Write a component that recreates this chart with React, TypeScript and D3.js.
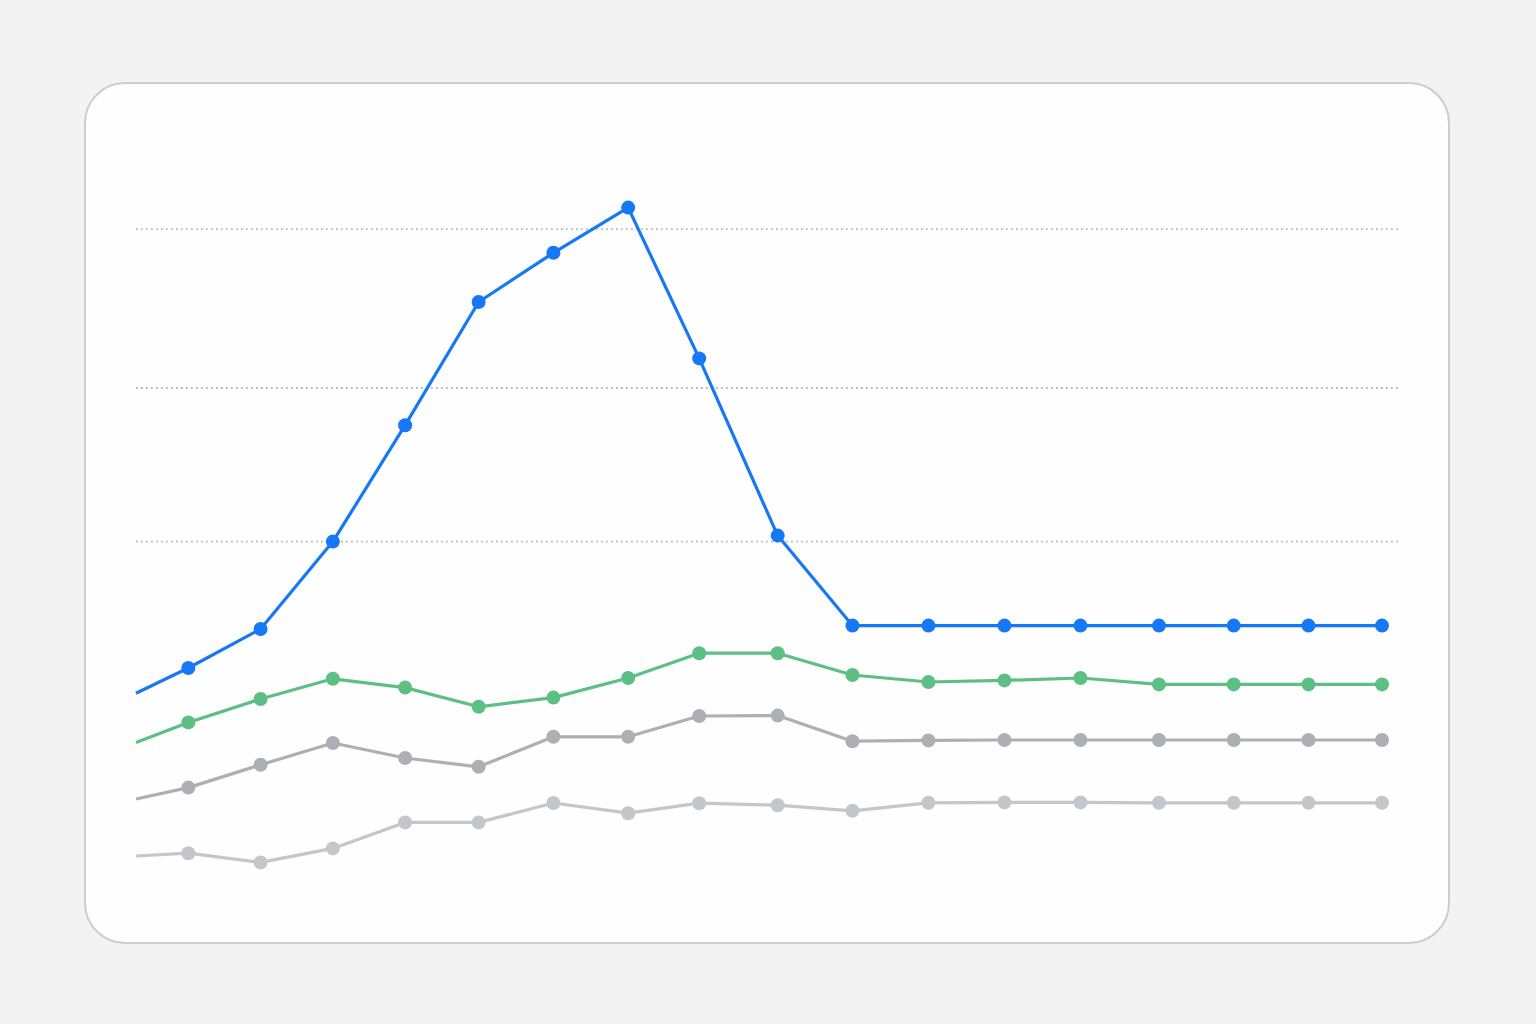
import React from "react";
import * as d3 from "d3";

// x positions (arbitrary time units) of each observation
const xValues = [0, 4.2, 10.0, 15.8, 21.6, 27.5, 33.5, 39.5, 45.2, 51.5, 57.5, 63.6, 69.7, 75.8, 82.1, 88.1, 94.1, 100];

const seriesBlue = [56.7, 63, 72.75, 94.6, 123.7, 154.5, 166.8, 178.1, 140.4, 96.1, 73.6, 73.6, 73.6, 73.6, 73.6, 73.6, 73.6, 73.6];
const seriesGreen = [44.4, 49.4, 55.25, 60.3, 58.1, 53.3, 55.6, 60.5, 66.7, 66.7, 61.25, 59.5, 59.9, 60.5, 58.9, 58.9, 58.9, 58.9];
const seriesGray = [30.25, 33.1, 38.8, 44.25, 40.5, 38.3, 45.8, 45.8, 51, 51.1, 44.7, 44.9, 45, 45, 45, 45, 45, 45];
const seriesLight = [16, 16.7, 14.4, 17.9, 24.4, 24.4, 29.25, 26.7, 29.2, 28.7, 27.3, 29.3, 29.4, 29.4, 29.3, 29.3, 29.3, 29.3];

const gridValues = [172.7, 133, 94.6];

const seriesList = [
  { name: "light", values: seriesLight, color: "#c5c6cb" },
  { name: "gray", values: seriesGray, color: "#adafb5" },
  { name: "green", values: seriesGreen, color: "#5ebf84" },
  { name: "blue", values: seriesBlue, color: "#1778f6" },
];

export default function App() {
  const W = 1536;
  const H = 1024;
  const x = d3.scaleLinear().domain([0, 100]).range([136, 1382]);
  const y = d3.scaleLinear().domain([0, 200]).range([920, 120]);
  const line = d3
    .line<number>()
    .x((_, i) => x(xValues[i]))
    .y((d) => y(d));

  return (
    <div style={{ position: "fixed", left: 0, top: 0, width: W, height: H }}>
      <svg width={W} height={H} style={{ display: "block" }}>
        <rect x={0} y={0} width={W} height={H} fill="#f3f3f3" />
        <rect x={85} y={83} width={1364} height={860} rx={40} ry={40} fill="#fefefe" stroke="#cdcdd0" strokeWidth={2} />
        {gridValues.map((g, i) => (
          <line
            key={i}
            x1={136}
            x2={1399}
            y1={y(g)}
            y2={y(g)}
            stroke="#b9b9b9"
            strokeWidth={1.8}
            strokeDasharray="1.8 3.2"
          />
        ))}
        {seriesList.map((s) => (
          <g key={s.name}>
            <path d={line(s.values) || ""} fill="none" stroke={s.color} strokeWidth={3.2} strokeLinejoin="round" />
            {s.values.map((v, i) =>
              i === 0 ? null : (
                <circle key={i} cx={x(xValues[i])} cy={y(v)} r={7} fill={s.color} />
              )
            )}
          </g>
        ))}
      </svg>
    </div>
  );
}
